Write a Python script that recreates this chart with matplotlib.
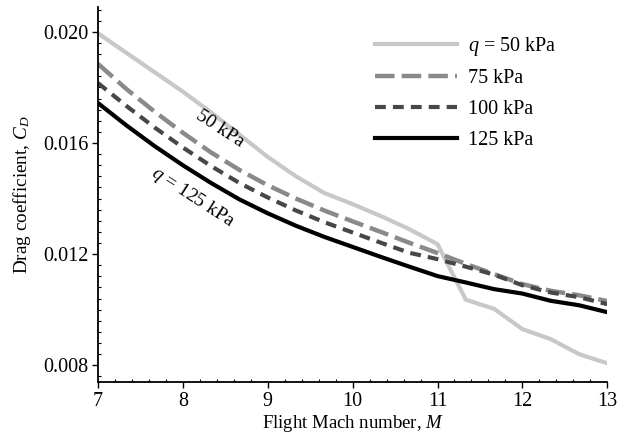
import matplotlib
matplotlib.use("Agg")
import matplotlib.pyplot as plt
from matplotlib.ticker import MultipleLocator

mach = [7.0, 7.333, 7.667, 8.0, 8.333, 8.667, 9.0, 9.333, 9.667, 10.0,
        10.333, 10.667, 11.0, 11.333, 11.667, 12.0, 12.333, 12.667, 13.0]

cd_50 = [0.01995, 0.01925, 0.01855, 0.01785, 0.0171, 0.0163, 0.0155, 0.0148, 0.0142,
         0.0138, 0.01337, 0.0129, 0.01236, 0.01036, 0.01003, 0.0093, 0.00894, 0.0084, 0.00807]
cd_75 = [0.01885, 0.01795, 0.01713, 0.01637, 0.01566, 0.01503, 0.01448, 0.0140, 0.01357,
         0.01318, 0.0128, 0.01241, 0.01204, 0.01165, 0.01128, 0.01092, 0.01068, 0.01052, 0.01031]
cd_100 = [0.01816, 0.01734, 0.01656, 0.01584, 0.01517, 0.01456, 0.01404, 0.01357, 0.01315,
          0.01278, 0.01241, 0.01205, 0.01182, 0.01155, 0.01126, 0.01088, 0.01062, 0.01045, 0.0102]
cd_125 = [0.01744, 0.01664, 0.01589, 0.0152, 0.01456, 0.01397, 0.01347, 0.01302, 0.01262,
          0.01226, 0.0119, 0.01155, 0.01121, 0.01098, 0.01074, 0.01058, 0.01032, 0.01016, 0.00991]

legend_labels = ["$q$ = 50 kPa", "75 kPa", "100 kPa", "125 kPa"]
x_ticks = [7, 8, 9, 10, 11, 12, 13]
y_ticks = [0.008, 0.012, 0.016, 0.020]
y_ticklabels = ["0.008", "0.012", "0.016", "0.020"]

plt.rcParams['font.family'] = ['Liberation Serif', 'DejaVu Serif']
plt.rcParams['mathtext.fontset'] = 'custom'
plt.rcParams['mathtext.it'] = 'Liberation Serif:italic'
plt.rcParams['mathtext.rm'] = 'Liberation Serif'

fig = plt.figure(figsize=(6.28, 4.33), dpi=100)
ax = fig.add_axes([0.156, 0.118, 0.811, 0.866])

ax.plot(mach, cd_50, color='#c8c8c8', lw=3.0, label=legend_labels[0])
ax.plot(mach, cd_75, color='#8a8a8a', lw=3.2, dashes=(4.4, 1.6), label=legend_labels[1])
ax.plot(mach, cd_100, color='#474747', lw=3.0, dashes=(2.6, 1.7), label=legend_labels[2])
ax.plot(mach, cd_125, color='#000000', lw=3.0, label=legend_labels[3])

ax.set_xlim(7, 13)
ax.set_ylim(0.0074, 0.0209)
ax.set_xticks(x_ticks)
ax.set_yticks(y_ticks)
ax.set_yticklabels(y_ticklabels)
ax.xaxis.set_minor_locator(MultipleLocator(0.2))
ax.yaxis.set_minor_locator(MultipleLocator(0.0004))
ax.tick_params(which='major', direction='out', length=4, width=1, labelsize=14.5, pad=3)
ax.tick_params(which='minor', direction='in', length=2.5, width=0.8)

for s in ['top', 'right']:
    ax.spines[s].set_visible(False)
for s in ['left', 'bottom']:
    ax.spines[s].set_linewidth(1.3)

ax.set_xlabel("Flight Mach number, $M$", fontsize=13.5, labelpad=1.5)
ax.set_ylabel("Drag coefficient, $C_D$", fontsize=13.8, labelpad=7)

ax.text(8.44, 0.01650, "50 kPa", rotation=-33, fontsize=14, ha='center', va='center')
ax.text(8.12, 0.01405, "$q$ = 125 kPa", rotation=-33, fontsize=14, ha='center', va='center')

leg = ax.legend(loc='upper left', bbox_to_anchor=(0.597, 0.92),
                bbox_transform=fig.transFigure, frameon=False, borderpad=0,
                borderaxespad=0, fontsize=14.5, handlelength=4.1,
                handletextpad=0.5, labelspacing=0.58)

fig.savefig("out.png", dpi=100)
